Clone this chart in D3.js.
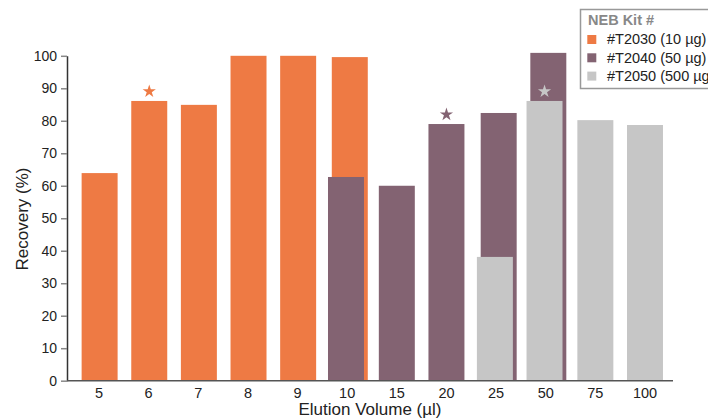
<!DOCTYPE html>
<html><head><meta charset="utf-8">
<script src="https://cdn.jsdelivr.net/npm/d3@7"></script>
<style>
html,body{margin:0;padding:0;background:#fff;}
svg{display:block;font-family:"Liberation Sans",Arial,Helvetica,sans-serif;}
</style></head>
<body><svg id="chart" width="708" height="419"></svg>
<script>
// ---- data ----
const categories = ["5","6","7","8","9","10","15","20","25","50","75","100"];
const seriesNames = ["#T2030 (10 µg)", "#T2040 (50 µg)", "#T2050 (500 µg)"];
const seriesColors = ["#EE7A44", "#836372", "#C6C6C6"];
const t2030Cats = ["5","6","7","8","9","10"];
const t2030Vals = [63.9, 86.1, 84.9, 100, 100, 99.6];
const t2040Cats = ["10","15","20","25","50"];
const t2040Vals = [62.7, 60, 79, 82.4, 100.9];
const t2050Cats = ["25","50","75","100"];
const t2050Vals = [38.1, 86.1, 80.2, 78.7];
const starCats = ["6", "20", "50"];   // optimal elution volume per kit
const yTicks = [0,10,20,30,40,50,60,70,80,90,100];
const xTitle = "Elution Volume (µl)";
const yTitle = "Recovery (%)";
const legendTitle = "NEB Kit #";

const series = [
  {name: seriesNames[0], color: seriesColors[0], cats: t2030Cats, vals: t2030Vals, star: starCats[0]},
  {name: seriesNames[1], color: seriesColors[1], cats: t2040Cats, vals: t2040Vals, star: starCats[1]},
  {name: seriesNames[2], color: seriesColors[2], cats: t2050Cats, vals: t2050Vals, star: starCats[2]}
];

const svg = d3.select("#chart");
const x = d3.scaleBand().domain(categories).range([74.2, 669.8]).paddingInner(0.275).paddingOuter(0.1375);
const y = d3.scaleLinear().domain([0, 100]).range([380.7, 55.8]);
const bw = x.bandwidth();

// overlap shift: bar behind shifted right, bar in front shifted left
function shift(si, cat) {
  const laterHas = series.slice(si + 1).some(s => s.cats.includes(cat));
  const earlierHas = series.slice(0, si).some(s => s.cats.includes(cat));
  if (laterHas) return 2.6;
  if (earlierHas) return -1.2;
  return si === 0 ? 0.6 : 0;
}

series.forEach((s, si) => {
  const data = s.cats.map((c, i) => ({c, v: s.vals[i]}));
  svg.append("g").selectAll("rect").data(data).join("rect")
    .attr("x", d => x(d.c) + shift(si, d.c))
    .attr("y", d => y(d.v))
    .attr("width", bw)
    .attr("height", d => y(0) - y(d.v))
    .attr("fill", s.color);
});

// stars
series.forEach((s, si) => {
  const i = s.cats.indexOf(s.star);
  const v = s.vals[i];
  svg.append("path")
    .attr("d", d3.symbol(d3.symbolStar, 54)())
    .attr("transform", `translate(${x(s.star) + bw / 2 + shift(si, s.star)},${y(v) - 9.5})`)
    .attr("fill", s.color);
});

// y axis
const yAxis = svg.append("g").attr("transform", "translate(67,0)")
  .call(d3.axisLeft(y).tickValues(yTicks).tickSize(6).tickPadding(4).tickSizeOuter(0));
yAxis.select(".domain").attr("stroke", "#333").attr("stroke-width", 1.5);
yAxis.selectAll(".tick line").attr("stroke", "#888").attr("stroke-width", 1.5);
yAxis.selectAll(".tick text").attr("fill", "#222").attr("font-size", 14)
  .attr("font-family", "'Liberation Sans',Arial,sans-serif");

// x axis
const xAxis = svg.append("g").attr("transform", `translate(0,${y(0)})`)
  .call(d3.axisBottom(x).tickSize(0).tickPadding(7));
xAxis.select(".domain").attr("d", `M67,0H673`).attr("stroke", "#555").attr("stroke-width", 1.5);
xAxis.selectAll(".tick text").attr("fill", "#222").attr("font-size", 14.5)
  .attr("font-family", "'Liberation Sans',Arial,sans-serif");

// titles
svg.append("text").attr("x", 370).attr("y", 415).attr("text-anchor", "middle")
  .attr("font-size", 17).attr("fill", "#222").text(xTitle);
svg.append("text").attr("transform", "translate(27.5,219) rotate(-90)").attr("text-anchor", "middle")
  .attr("font-size", 17).attr("fill", "#222").text(yTitle);

// legend
const lg = svg.append("g");
lg.append("rect").attr("x", 580.5).attr("y", 9.5).attr("width", 140).attr("height", 79)
  .attr("fill", "#fff").attr("stroke", "#999").attr("stroke-width", 1.5);
lg.append("text").attr("x", 588).attr("y", 25).attr("font-size", 14.5).attr("font-weight", "bold")
  .attr("fill", "#888").text(legendTitle);
series.forEach((s, i) => {
  lg.append("rect").attr("x", 587.3).attr("y", 35 + i * 18.3).attr("width", 9).attr("height", 9).attr("fill", s.color);
  lg.append("text").attr("x", 607).attr("y", 44.3 + i * 18.3).attr("font-size", 14.5).attr("fill", "#222").text(s.name);
});
</script></body></html>
